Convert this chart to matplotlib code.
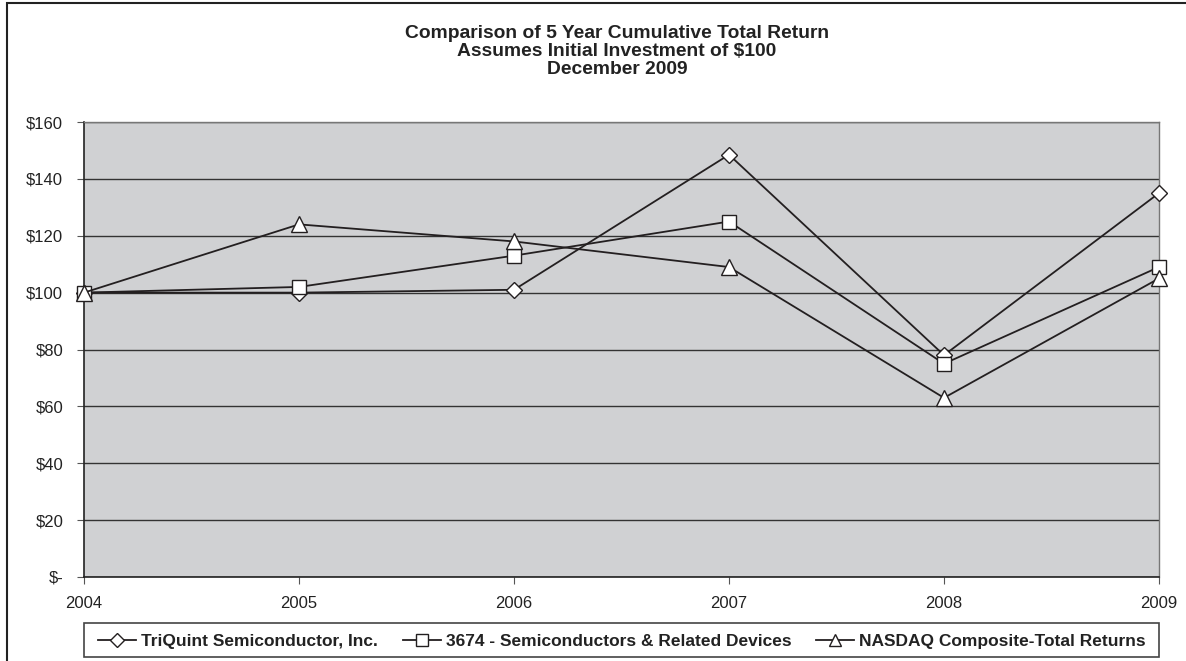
import matplotlib.pyplot as plt
import matplotlib.patches as patches
from matplotlib.ticker import FuncFormatter

plt.rcParams['font.family'] = ['Liberation Sans', 'DejaVu Sans']

# data
years = [2004, 2005, 2006, 2007, 2008, 2009]
triquint = [100, 100, 101, 148.5, 78, 135]
semis = [100, 102, 113, 125, 75, 109]
nasdaq = [100, 124, 118, 109, 63, 105]

labels = ["TriQuint Semiconductor, Inc.",
          "3674 - Semiconductors & Related Devices",
          "NASDAQ Composite-Total Returns"]
title_lines = ["Comparison of 5 Year Cumulative Total Return",
               "Assumes Initial Investment of $100",
               "December 2009"]

W, H = 1186, 661
fig = plt.figure(figsize=(W / 100, H / 100), dpi=100)
ax = fig.add_axes([84 / W, 1 - 577 / H, (1159 - 84) / W, (577 - 122) / H])
ax.set_facecolor("#d0d1d3")

line_color = "#231f20"
kw = dict(color=line_color, linewidth=1.3, markerfacecolor="white",
          markeredgecolor=line_color, markeredgewidth=1.0, clip_on=False, zorder=3)
h1, = ax.plot(years, triquint, marker="D", markersize=8, label=labels[0], **kw)
h2, = ax.plot(years, semis, marker="s", markersize=9.5, label=labels[1], **kw)
h3, = ax.plot(years, nasdaq, marker="^", markersize=11, label=labels[2], **kw)

ax.set_xlim(2004, 2009)
ax.set_ylim(0, 160)
ax.set_xticks(years)
ax.set_yticks(range(0, 161, 20))
ax.yaxis.set_major_formatter(FuncFormatter(lambda v, p: "$-" if v == 0 else f"${v:.0f}"))
ax.yaxis.grid(True, color="#333333", linewidth=1.0)
ax.set_axisbelow(True)
ax.tick_params(axis="both", direction="out", length=5, width=0.8, color="#555555",
               labelsize=12, colors="#222222")
ax.tick_params(axis="x", pad=9)
ax.tick_params(axis="y", pad=10)
for s in ["left", "bottom"]:
    ax.spines[s].set_color("#222222")
    ax.spines[s].set_linewidth(1.2)
for s in ["top", "right"]:
    ax.spines[s].set_color("#777777")
    ax.spines[s].set_linewidth(1.0)

for txt, y in zip(title_lines, [33, 51, 69]):
    fig.text(617 / W, 1 - y / H, txt, ha="center", va="center", fontsize=13.9,
             fontweight="bold", color="#222222")

leg = fig.legend(handles=[h1, h2, h3], loc="center", ncol=3,
                 bbox_to_anchor=(622 / W, 1 - 641 / H),
                 frameon=False, prop={"weight": "bold", "size": 12.5},
                 handlelength=2.2, columnspacing=1.4, handletextpad=0.3,
                 markerscale=0.85)
for t in leg.get_texts():
    t.set_color("#222222")

# legend box
fig.patches.append(patches.Rectangle((84 / W, 1 - 657 / H), (1159 - 84) / W, (657 - 623) / H,
                                     transform=fig.transFigure, fill=False,
                                     edgecolor="#444444", linewidth=1.2))

# outer border of the chart
fig.patches.append(patches.Rectangle((7 / W, -0.05), 1.1, 1 - 3 / H + 0.05,
                                     transform=fig.transFigure, fill=False,
                                     edgecolor="#222222", linewidth=1.5))

fig.savefig("out.png", dpi=100)
